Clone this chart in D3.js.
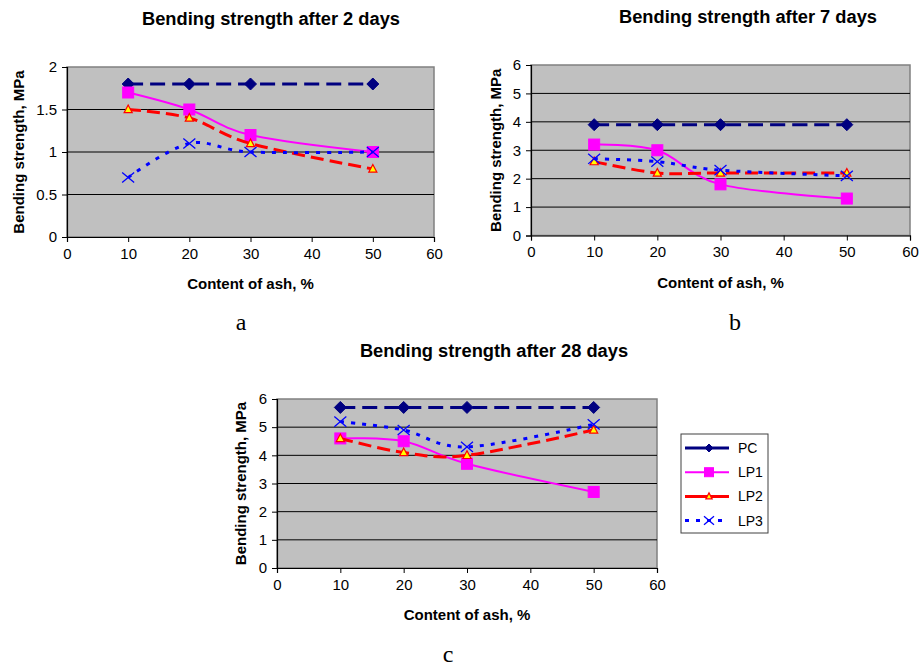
<!doctype html>
<html>
<head>
<meta charset="utf-8">
<style>
body { margin: 0; background: #fff; }
svg { display: block; }
.tick text { font-family: "Liberation Sans", Arial, sans-serif; }
</style>
</head>
<body>
<div id="viz"></div>
<script src="https://cdn.jsdelivr.net/npm/d3@7/dist/d3.min.js"></script>
<script>
// ---- data ----
var ashContent = [10, 20, 30, 50];
var seriesNames = ['PC', 'LP1', 'LP2', 'LP3'];

// after 2 days
var pc2  = [1.8, 1.8, 1.8, 1.8];
var lp1_2 = [1.7, 1.5, 1.2, 1.0];
var lp2_2 = [1.5, 1.4, 1.1, 0.8];
var lp3_2 = [0.7, 1.1, 1.0, 1.0];

// after 7 days
var pc7  = [3.9, 3.9, 3.9, 3.9];
var lp1_7 = [3.2, 3.0, 1.8, 1.3];
var lp2_7 = [2.6, 2.2, 2.2, 2.2];
var lp3_7 = [2.7, 2.6, 2.3, 2.1];

// after 28 days
var pc28  = [5.7, 5.7, 5.7, 5.7];
var lp1_28 = [4.6, 4.5, 3.7, 2.7];
var lp2_28 = [4.6, 4.1, 4.0, 4.9];
var lp3_28 = [5.2, 4.9, 4.3, 5.1];

var xTicks = [0, 10, 20, 30, 40, 50, 60];
var yTicks2 = [0, 0.5, 1, 1.5, 2];
var yTicks7 = [0, 1, 2, 3, 4, 5, 6];
</script>
<script>
var width = 919, height = 666;
var sans = '"Liberation Sans", Arial, sans-serif';
var serif = '"Liberation Serif", "Times New Roman", serif';

var svg = d3.select('#viz').append('svg')
    .attr('width', width)
    .attr('height', height);

// line + marker style per series
var styles = {
    PC:  { color: '#000080', width: 3, dash: '15,7', marker: 'diamond' },
    LP1: { color: '#ff00ff', width: 2, dash: null, marker: 'square' },
    LP2: { color: '#ff0000', width: 3, dash: '13,6', marker: 'triangle' },
    LP3: { color: '#0000ff', width: 3, dash: '4,7', marker: 'cross' }
};

/**
 * draws one marker of the given type into g
 */
function drawMarker (g, type, x, y, s) {
    if (type === 'diamond') {
        g.append('path')
            .attr('d', 'M' + x + ',' + (y - s) + 'L' + (x + s) + ',' + y + 'L' + x + ',' + (y + s) + 'L' + (x - s) + ',' + y + 'Z')
            .attr('fill', '#000080').attr('stroke', '#000080');
    } else if (type === 'square') {
        g.append('rect')
            .attr('x', x - s).attr('y', y - s)
            .attr('width', 2 * s).attr('height', 2 * s)
            .attr('fill', '#ff00ff').attr('stroke', '#ff00ff');
    } else if (type === 'triangle') {
        g.append('path')
            .attr('d', 'M' + x + ',' + (y - s) + 'L' + (x + s * 0.9) + ',' + (y + s * 0.7) + 'L' + (x - s * 0.9) + ',' + (y + s * 0.7) + 'Z')
            .attr('fill', '#ffff00').attr('stroke', '#ff0000').attr('stroke-width', 1.2);
    } else {
        g.append('path')
            .attr('d', 'M' + (x - s) + ',' + (y - s * 0.85) + 'L' + (x + s) + ',' + (y + s * 0.85) +
                       'M' + (x + s) + ',' + (y - s * 0.85) + 'L' + (x - s) + ',' + (y + s * 0.85))
            .attr('fill', 'none').attr('stroke', '#0000ff').attr('stroke-width', 1.3);
    }
}

var markerSize = { diamond: 6, square: 5.5, triangle: 4.5, cross: 6 };

/**
 * renders one chart panel
 */
function drawPanel (cfg) {
    var g = svg.append('g');
    var x = d3.scaleLinear().domain([0, 60]).range([cfg.left, cfg.right]);
    var y = d3.scaleLinear().domain([0, cfg.yMax]).range([cfg.bottom, cfg.top]);

    g.append('rect')
        .attr('x', cfg.left).attr('y', cfg.top)
        .attr('width', cfg.right - cfg.left).attr('height', cfg.bottom - cfg.top)
        .attr('fill', '#c0c0c0').attr('stroke', '#808080').attr('stroke-width', 1.5);

    // gridlines
    g.selectAll('line.grid').data(cfg.yTicks.filter(function (d) { return d > 0 && d < cfg.yMax; }))
        .enter().append('line')
        .attr('class', 'grid')
        .attr('x1', cfg.left).attr('x2', cfg.right)
        .attr('y1', function (d) { return y(d); })
        .attr('y2', function (d) { return y(d); })
        .attr('stroke', '#000').attr('stroke-width', 1);

    var yAxis = g.append('g')
        .attr('transform', 'translate(' + cfg.left + ',0)')
        .call(d3.axisLeft(y).tickValues(cfg.yTicks).tickSize(5).tickPadding(5).tickFormat(function (d) { return String(d); }));
    var xAxis = g.append('g')
        .attr('transform', 'translate(0,' + cfg.bottom + ')')
        .call(d3.axisBottom(x).tickValues(xTicks).tickSize(5).tickPadding(6));
    [yAxis, xAxis].forEach(function (a) {
        a.select('.domain').attr('stroke', '#000').attr('stroke-width', 1.2);
        a.selectAll('.tick line').attr('stroke', '#000');
        a.selectAll('.tick text').attr('font-size', 15).attr('fill', '#000');
        a.attr('font-family', sans);
    });

    var line = d3.line()
        .x(function (d) { return x(d.x); })
        .y(function (d) { return y(d.y); })
        .curve(d3.curveCardinal.tension(0));

    cfg.series.forEach(function (vals, i) {
        var st = styles[seriesNames[i]];
        var pts = ashContent.map(function (a, j) { return { x: a, y: vals[j] }; });
        g.append('path')
            .datum(pts)
            .attr('d', line)
            .attr('fill', 'none')
            .attr('stroke', st.color)
            .attr('stroke-width', st.width)
            .attr('stroke-dasharray', st.dash);
        pts.forEach(function (p) {
            drawMarker(g, st.marker, x(p.x), y(p.y), markerSize[st.marker]);
        });
    });

    // titles
    g.append('text')
        .attr('x', cfg.titleX).attr('y', cfg.titleY)
        .attr('text-anchor', 'middle')
        .attr('font-family', sans).attr('font-weight', 'bold').attr('font-size', 18.3)
        .text(cfg.title);
    g.append('text')
        .attr('x', (cfg.left + cfg.right) / 2 + cfg.xTitleShift).attr('y', cfg.bottom + 52)
        .attr('text-anchor', 'middle')
        .attr('font-family', sans).attr('font-weight', 'bold').attr('font-size', 15)
        .text('Content of ash, %');
    g.append('text')
        .attr('transform', 'translate(' + cfg.yTitleX + ',' + (cfg.top + cfg.bottom) / 2 + ') rotate(-90)')
        .attr('text-anchor', 'middle')
        .attr('font-family', sans).attr('font-weight', 'bold').attr('font-size', 15)
        .text('Bending strength, MPa');
    g.append('text')
        .attr('x', cfg.labelX).attr('y', cfg.labelY)
        .attr('text-anchor', 'middle')
        .attr('font-family', serif).attr('font-size', 24)
        .text(cfg.label);
}

drawPanel({
    left: 67, right: 434, top: 67, bottom: 237, yMax: 2, yTicks: yTicks2,
    series: [pc2, lp1_2, lp2_2, lp3_2],
    title: 'Bending strength after 2 days', titleX: 271, titleY: 25,
    xTitleShift: 0, yTitleX: 24, label: 'a', labelX: 241, labelY: 330
});
drawPanel({
    left: 531, right: 910, top: 65, bottom: 235.5, yMax: 6, yTicks: yTicks7,
    series: [pc7, lp1_7, lp2_7, lp3_7],
    title: 'Bending strength after 7 days', titleX: 748, titleY: 23,
    xTitleShift: 0, yTitleX: 501, label: 'b', labelX: 735, labelY: 330
});
drawPanel({
    left: 277, right: 657, top: 399, bottom: 568, yMax: 6, yTicks: yTicks7,
    series: [pc28, lp1_28, lp2_28, lp3_28],
    title: 'Bending strength after 28 days', titleX: 494, titleY: 357,
    xTitleShift: 0, yTitleX: 246, label: 'c', labelX: 448, labelY: 662
});

// legend
var legend = svg.append('g');
legend.append('rect')
    .attr('x', 681).attr('y', 434).attr('width', 87).attr('height', 99)
    .attr('fill', '#fff').attr('stroke', '#404040').attr('stroke-width', 1);
var legendSize = { diamond: 4, square: 4.5, triangle: 3.5, cross: 5 };
seriesNames.forEach(function (name, i) {
    var st = styles[name];
    var ly = 448 + i * 24.2;
    legend.append('line')
        .attr('x1', 685).attr('x2', 729).attr('y1', ly).attr('y2', ly)
        .attr('stroke', st.color).attr('stroke-width', st.width)
        .attr('stroke-dasharray', name === 'LP3' ? '4,7' : null);
    drawMarker(legend, st.marker, 709, ly, legendSize[st.marker]);
    legend.append('text')
        .attr('x', 738).attr('y', ly + 5)
        .attr('font-family', sans).attr('font-size', 14)
        .text(name);
});
</script>
</body>
</html>
